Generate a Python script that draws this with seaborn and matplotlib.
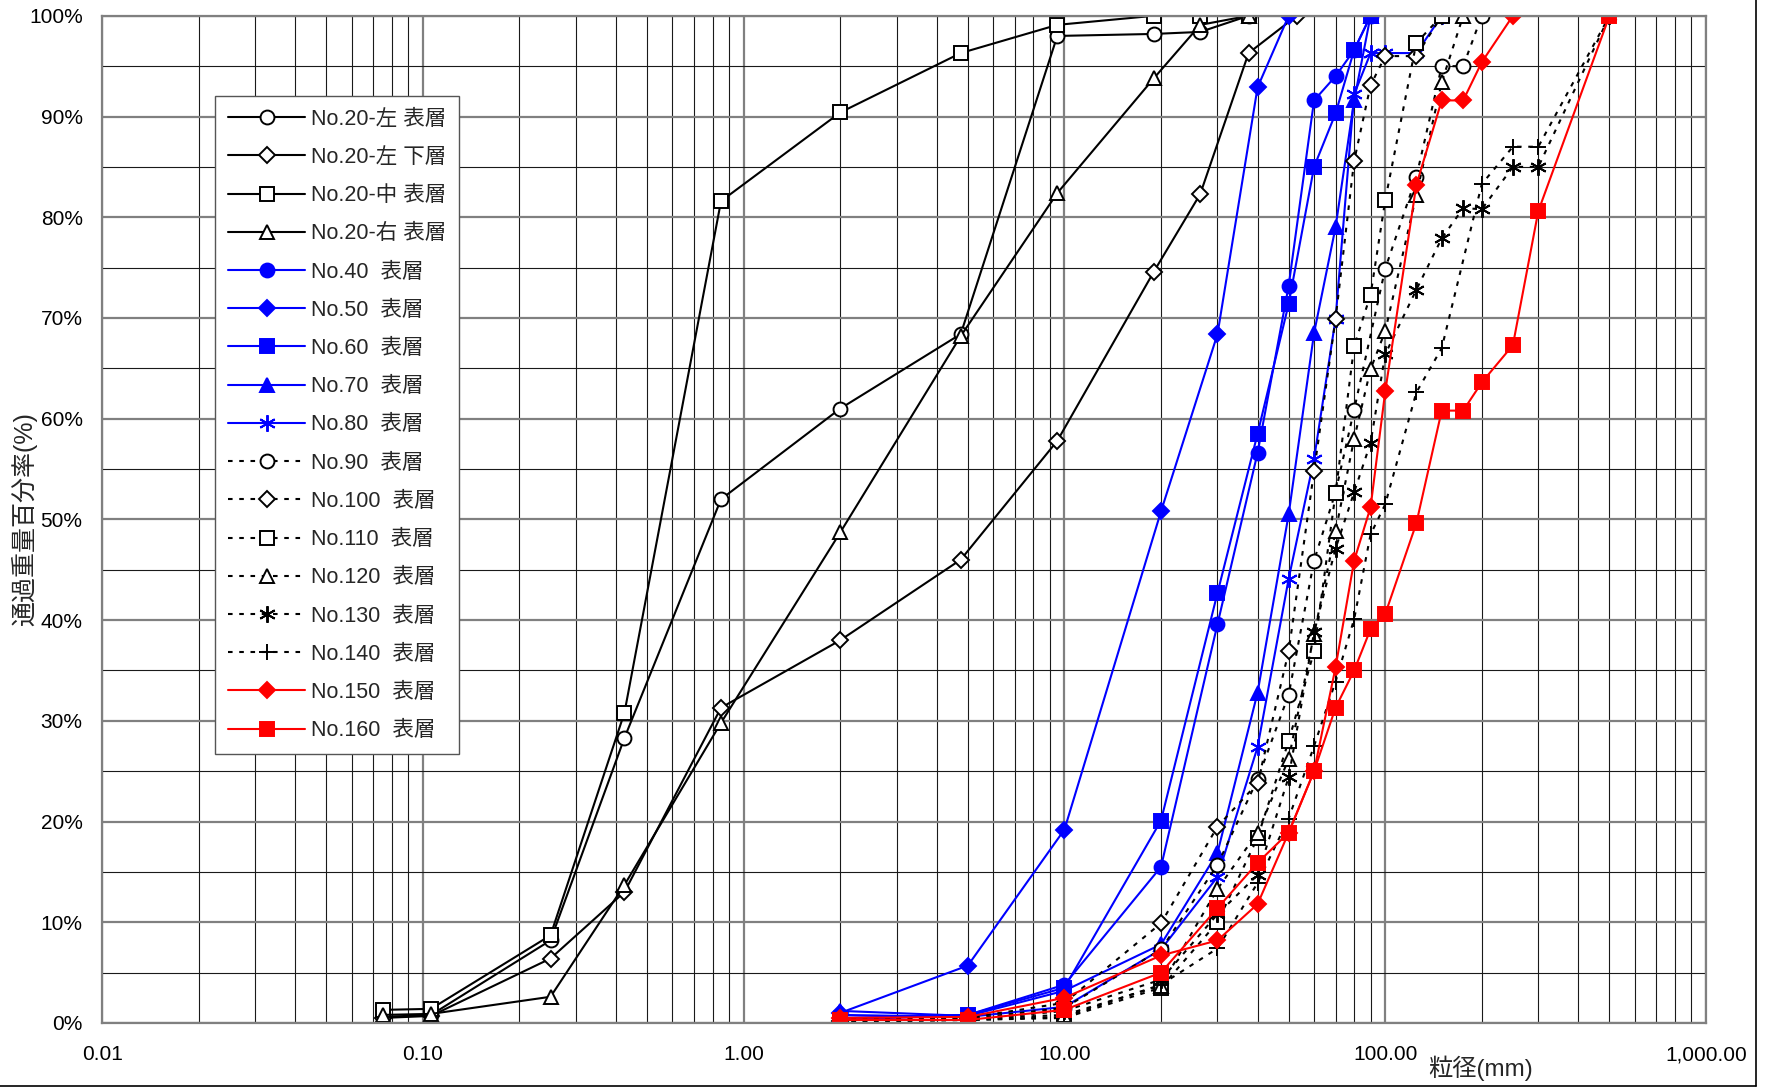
import numpy as np
import matplotlib
matplotlib.use("Agg")
import matplotlib.pyplot as plt
import seaborn as sns
from matplotlib.lines import Line2D

nan = np.nan

# sieve sizes (mm)
SIEVE_A = [0.075, 0.106, 0.25, 0.425, 0.85, 2, 4.75, 9.5, 19, 26.5, 37.5, 53]
SIEVE_B = [2, 5, 10, 20, 30, 40, 50, 60, 70, 80, 90, 100, 125, 150, 175, 200, 250, 300, 500]

# passing percentage (%)
NO20_L_TOP = [0.6, 0.8, 8.2, 28.3, 52.0, 61.0, 68.4, 98.0, 98.2, 98.4, 100, nan]
NO20_L_LOW = [0.5, 0.7, 6.4, 13.0, 31.3, 38.0, 46.0, 57.8, 74.6, 82.3, 96.3, 100]
NO20_C_TOP = [1.3, 1.4, 8.7, 30.8, 81.6, 90.4, 96.3, 99.1, 100, 100, 100, nan]
NO20_R_TOP = [0.8, 0.9, 2.6, 13.7, 29.8, 48.7, 68.2, 82.4, 93.8, 99.1, 100, nan]

NO40 = [0.5, 0.8, 3.8, 15.5, 39.6, 56.6, 73.2, 91.6, 94.0, 96.6, 100]
NO50 = [1.0, 5.7, 19.2, 50.8, 68.4, 92.9, 100]
NO60 = [0.3, 0.8, 3.5, 20.1, 42.7, 58.5, 71.4, 85.0, 90.3, 96.6, 100]
NO70 = [1.2, 0.7, 3.2, 7.8, 16.9, 32.8, 50.5, 68.5, 79.0, 91.6, 100]
NO80 = [0.8, 0.6, 1.6, 7.3, 14.5, 27.4, 44.1, 56.0, 69.9, 92.2, 96.3, 96.3, 96.3, 100]
NO90 = [0.3, 0.4, 1.5, 7.3, 15.7, 24.2, 32.6, 45.9, 52.7, 60.9, nan, 74.9, 84.0, 95.0, 95.0, 100]
NO100 = [0.2, 0.5, 2.0, 9.9, 19.5, 23.8, 36.9, 54.8, 69.9, 85.6, 93.1, 96.0, 96.0, 100]
NO110 = [0.3, 0.3, 0.5, 3.5, 10.0, 18.4, 28.0, 36.9, 52.6, 67.2, 72.3, 81.7, 97.3, 100]
NO120 = [0.4, 0.4, 0.8, 3.7, 13.3, 18.9, 26.2, 38.6, 48.8, 58.0, 64.9, 68.7, 82.2, 93.4, 100]
NO130 = [0.2, 0.3, 1.2, 4.3, 10.8, 14.7, 24.4, 38.8, 47.1, 52.7, 57.6, 66.4, 72.8, 77.9, 80.9, 80.8, 85.0, 85.0, 100]
NO140 = [0.1, 0.3, 0.6, 3.8, 7.4, 13.9, 20.3, 27.5, 33.9, 40.1, 48.5, 51.5, 62.6, 67.0, nan, 83.3, 87.0, 87.0, 100]
NO150 = [0.5, 0.6, 2.5, 6.7, 8.2, 11.8, 18.9, 25.0, 35.3, 45.9, 51.2, 62.7, 83.2, 91.6, 91.6, 95.4, 100]
NO160 = [0.3, 0.3, 1.3, 5.0, 11.4, 15.9, 18.9, 25.0, 31.3, 35.0, 39.1, 40.6, 49.6, 60.8, 60.8, 63.6, 67.3, 80.6, 100]

LABELS = ["No.20-左 表層", "No.20-左 下層", "No.20-中 表層", "No.20-右 表層",
          "No.40  表層", "No.50  表層", "No.60  表層", "No.70  表層", "No.80  表層",
          "No.90  表層", "No.100  表層", "No.110  表層", "No.120  表層", "No.130  表層",
          "No.140  表層", "No.150  表層", "No.160  表層"]

ASTER = (6, 2, 0)
DOT = (0, (2.2, 3.2))
# (sieves, values, colour, linestyle, marker, filled)
SERIES = [
    (SIEVE_A, NO20_L_TOP, "black", "-", "o", False),
    (SIEVE_A, NO20_L_LOW, "black", "-", "D", False),
    (SIEVE_A, NO20_C_TOP, "black", "-", "s", False),
    (SIEVE_A, NO20_R_TOP, "black", "-", "^", False),
    (SIEVE_B, NO40, "blue", "-", "o", True),
    (SIEVE_B, NO50, "blue", "-", "D", True),
    (SIEVE_B, NO60, "blue", "-", "s", True),
    (SIEVE_B, NO70, "blue", "-", "^", True),
    (SIEVE_B, NO80, "blue", "-", ASTER, True),
    (SIEVE_B, NO90, "black", DOT, "o", False),
    (SIEVE_B, NO100, "black", DOT, "D", False),
    (SIEVE_B, NO110, "black", DOT, "s", False),
    (SIEVE_B, NO120, "black", DOT, "^", False),
    (SIEVE_B, NO130, "black", DOT, ASTER, False),
    (SIEVE_B, NO140, "black", DOT, "+", False),
    (SIEVE_B, NO150, "red", "-", "D", True),
    (SIEVE_B, NO160, "red", "-", "s", True),
]

sns.set_theme(style="white")
plt.rcParams["font.family"] = ["Liberation Sans", "Noto Sans CJK JP", "DejaVu Sans"]

fig = plt.figure(figsize=(17.69, 10.90), dpi=100, facecolor="white")
ax = fig.add_axes([0.0577, 0.0615, 0.9067, 0.924])

for (xs, ys, col, ls, mk, filled), lab in zip(SERIES, LABELS):
    y = np.array(ys, dtype=float)
    x = np.array(xs[:len(y)], dtype=float)
    ok = ~np.isnan(y)
    ms = 8 if mk == "D" else 10
    if mk == "+" or mk == ASTER:
        ms = 12
    sns.lineplot(x=x[ok], y=y[ok], ax=ax, color=col, linestyle=ls, linewidth=1.5,
                 marker=mk, markersize=ms, markeredgecolor=col, markeredgewidth=1.4,
                 markerfacecolor=col if filled else "white", label=lab,
                 sort=False, estimator=None)

ax.set_xscale("log")
ax.set_xlim(0.01, 1000)
ax.set_ylim(0, 100)
ax.set_yticks(np.arange(0, 101, 10))
ax.set_yticklabels([f"{v}%" for v in range(0, 101, 10)])
ax.set_yticks(np.arange(5, 100, 10), minor=True)
ax.set_xticks([0.01, 0.1, 1, 10, 100, 1000])
ax.set_xticklabels(["0.01", "0.10", "1.00", "10.00", "100.00", "1,000.00"])
ax.xaxis.set_minor_locator(matplotlib.ticker.LogLocator(base=10, subs=np.arange(2, 10)))
ax.xaxis.set_minor_formatter(matplotlib.ticker.NullFormatter())
ax.grid(True, which="major", color="#808080", linewidth=1.6)
ax.grid(True, which="minor", color="#1a1a1a", linewidth=0.8)
ax.tick_params(which="both", length=0, labelsize=15, colors="black")
ax.tick_params(axis="x", pad=16)
ax.tick_params(axis="y", pad=14)
for sp in ax.spines.values():
    sp.set_color("#808080")
    sp.set_linewidth(1.6)
ax.set_xlabel("")
ax.set_ylabel("")

fig.text(0.0135, 0.524, "通過重量百分率(%)", rotation=90, ha="center", va="center", fontsize=18)
fig.text(0.837, 0.020, "粒径(mm)", ha="center", va="center", fontsize=17.5)

# outer frame lines (right, bottom)
fig.add_artist(Line2D([0.9927, 0.9927], [0.004, 1.0], transform=fig.transFigure, color="black", lw=1.2))
fig.add_artist(Line2D([0.0, 0.9927], [0.004, 0.004], transform=fig.transFigure, color="black", lw=1.2))

leg = ax.legend(loc="upper left", bbox_to_anchor=(0.0704, 0.9206), borderaxespad=0,
                fontsize=15.5, handlelength=3.6, labelspacing=0.80, handletextpad=0.25,
                borderpad=0.6, fancybox=False, framealpha=1, edgecolor="#555555")
leg.get_frame().set_linewidth(1.0)

fig.savefig("out.png", dpi=100, facecolor="white")
